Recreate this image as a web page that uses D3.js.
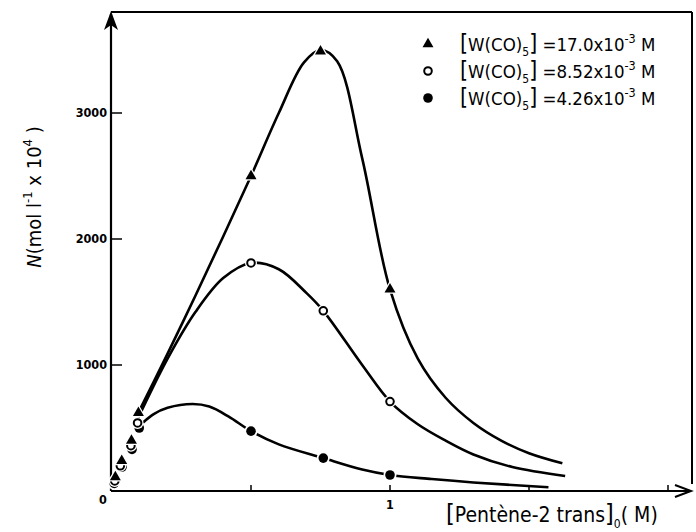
<!DOCTYPE html>
<html lang="fr">
<head>
<meta charset="UTF-8" />
<title>N vs Pentène-2 trans</title>
<script src="https://d3js.org/d3.v7.min.js"></script>
<style>
  body { margin: 0; background: #fff; }
  svg { display: block; font-family: "DejaVu Sans Condensed", "DejaVu Sans", sans-serif; }
</style>
</head>
<body>
<svg id="chart" width="696" height="532"></svg>
<script>
// measured points [Pentène-2 trans]0 (M), N
const triPts  = [[0.012, 110], [0.035, 240], [0.07, 400], [0.095, 620], [0.5, 2500], [0.75, 3490], [1.0, 1600]];
const openPts = [[0.01, 80], [0.03, 200], [0.068, 360], [0.092, 540], [0.5, 1810], [0.76, 1430], [1.0, 710]];
const fillPts = [[0.008, 60], [0.036, 190], [0.072, 330], [0.098, 500], [0.5, 475], [0.76, 261], [1.0, 127]];

// drawn curves
const triCurve  = [[0.09, 600], [0.2, 1090], [0.3, 1550], [0.4, 2020], [0.5, 2500], [0.6, 3000], [0.69, 3400], [0.75, 3500], [0.81, 3410], [0.9, 2640], [1.0, 1600], [1.1, 1050], [1.2, 740], [1.3, 540], [1.4, 400], [1.5, 300], [1.62, 220]];
const openCurve = [[0.09, 560], [0.2, 1050], [0.3, 1420], [0.4, 1690], [0.5, 1810], [0.6, 1760], [0.7, 1570], [0.76, 1430], [0.9, 1000], [1.0, 710], [1.1, 530], [1.2, 400], [1.3, 290], [1.44, 190], [1.63, 119]];
const fillCurve = [[0.11, 540], [0.15, 610], [0.2, 660], [0.29, 690], [0.35, 670], [0.42, 590], [0.5, 475], [0.6, 370], [0.76, 261], [0.9, 170], [1.0, 127], [1.15, 95], [1.3, 68], [1.57, 30]];

const yTicks = [1000, 2000, 3000];
const xTicks = [0.5, 1, 1.5, 2];
const legendLabels = ["17.0", "8.52", "4.26"];

const svg = d3.select("#chart");
const x = d3.scaleLinear().domain([0, 1]).range([112, 390]);
const y = d3.scaleLinear().domain([0, 1000]).range([491, 365]);

const ax = svg.append("g").attr("stroke", "#000").attr("fill", "none");
// frame
ax.append("line").attr("x1", 111).attr("y1", 12).attr("x2", 692).attr("y2", 12).attr("stroke-width", 2);
ax.append("line").attr("x1", 692).attr("y1", 12).attr("x2", 692).attr("y2", 484).attr("stroke-width", 2);
// y axis with arrow
ax.append("line").attr("x1", 111).attr("y1", 491).attr("x2", 111).attr("y2", 14).attr("stroke-width", 2.2);
svg.append("path").attr("d", "M111,11 L104,30 L111,25 L118,30 Z").attr("fill", "#000");
// x axis with arrow
ax.append("line").attr("x1", 111).attr("y1", 491).attr("x2", 690).attr("y2", 491).attr("stroke-width", 2.2);
ax.append("path").attr("d", "M675,485 L691,491 L675,497").attr("stroke-width", 2);

// ticks
yTicks.forEach(t => {
  ax.append("line").attr("x1", 111).attr("x2", 122).attr("y1", y(t)).attr("y2", y(t)).attr("stroke-width", 1.5);
  svg.append("text").attr("x", 107).attr("y", y(t) + 4).attr("text-anchor", "end")
    .attr("font-size", 12.5).attr("font-weight", "bold").text(t);
});
xTicks.forEach(t => {
  ax.append("line").attr("x1", x(t)).attr("x2", x(t)).attr("y1", 491).attr("y2", 485).attr("stroke-width", 1.5);
});
svg.append("text").attr("x", 103).attr("y", 504).attr("text-anchor", "middle").attr("font-size", 12.5).attr("font-weight", "bold").text("0");
svg.append("text").attr("x", x(1)).attr("y", 509).attr("text-anchor", "middle").attr("font-size", 12.5).attr("font-weight", "bold").text("1");

// curves
const line = d3.line().x(d => x(d[0])).y(d => y(d[1])).curve(d3.curveCatmullRom.alpha(0.5));
[triCurve, openCurve, fillCurve].forEach(c => {
  svg.append("path").attr("d", line(c)).attr("fill", "none").attr("stroke", "#000").attr("stroke-width", 2.6);
});

// markers
const tri = d3.symbol().type(d3.symbolTriangle).size(52);
function drawTri(g, px, py) {
  g.append("path").attr("d", tri()).attr("transform", `translate(${px},${py})`)
    .attr("fill", "#000").attr("stroke", "#fff").attr("stroke-width", 2.5).attr("paint-order", "stroke");
}
function drawOpen(g, px, py) {
  g.append("circle").attr("cx", px).attr("cy", py).attr("r", 6).attr("fill", "#fff");
  g.append("circle").attr("cx", px).attr("cy", py).attr("r", 3.8).attr("fill", "#fff").attr("stroke", "#000").attr("stroke-width", 2);
}
function drawFill(g, px, py) {
  g.append("circle").attr("cx", px).attr("cy", py).attr("r", 6.5).attr("fill", "#fff");
  g.append("circle").attr("cx", px).attr("cy", py).attr("r", 4.8).attr("fill", "#000");
}
const mk = svg.append("g");
fillPts.forEach(d => drawFill(mk, x(d[0]), y(d[1])));
openPts.forEach(d => drawOpen(mk, x(d[0]), y(d[1])));
triPts.forEach(d => drawTri(mk, x(d[0]), y(d[1])));

// legend
const leg = svg.append("g");
const drawers = [drawTri, drawOpen, drawFill];
legendLabels.forEach((lab, i) => {
  const ly = 45 + i * 27;
  drawers[i](leg, 428, ly - 1);
  const t = leg.append("text").attr("x", 460).attr("y", ly + 6).attr("font-size", 18.5);
  t.append("tspan").attr("font-size", 23).text("[");
  t.append("tspan").text("W(CO)");
  t.append("tspan").attr("font-size", 12).attr("dy", 5).text("5");
  t.append("tspan").attr("font-size", 23).attr("dy", -5).text("]");
  t.append("tspan").text(" =" + lab + "x10");
  t.append("tspan").attr("font-size", 12.5).attr("dy", -8).text("-3");
  t.append("tspan").attr("dy", 8).text(" M");
});

// axis titles
const yl = svg.append("text").attr("transform", "translate(41,197) rotate(-90)")
  .attr("text-anchor", "middle").attr("font-size", 20);
yl.append("tspan").attr("font-style", "italic").text("N");
yl.append("tspan").text("(mol l");
yl.append("tspan").attr("font-size", 13).attr("dy", -9).text("-1");
yl.append("tspan").attr("dy", 9).text(" x 10");
yl.append("tspan").attr("font-size", 13).attr("dy", -9).text("4");
yl.append("tspan").attr("dy", 9).text(" )");

const xl = svg.append("text").attr("x", 446).attr("y", 522).attr("font-size", 21);
xl.append("tspan").attr("font-size", 25).text("[");
xl.append("tspan").text("Pentène-2 trans");
xl.append("tspan").attr("font-size", 25).text("]");
xl.append("tspan").attr("font-size", 12).attr("dy", 6).text("0");
xl.append("tspan").attr("dy", -6).text("( M)");
</script>
</body>
</html>
